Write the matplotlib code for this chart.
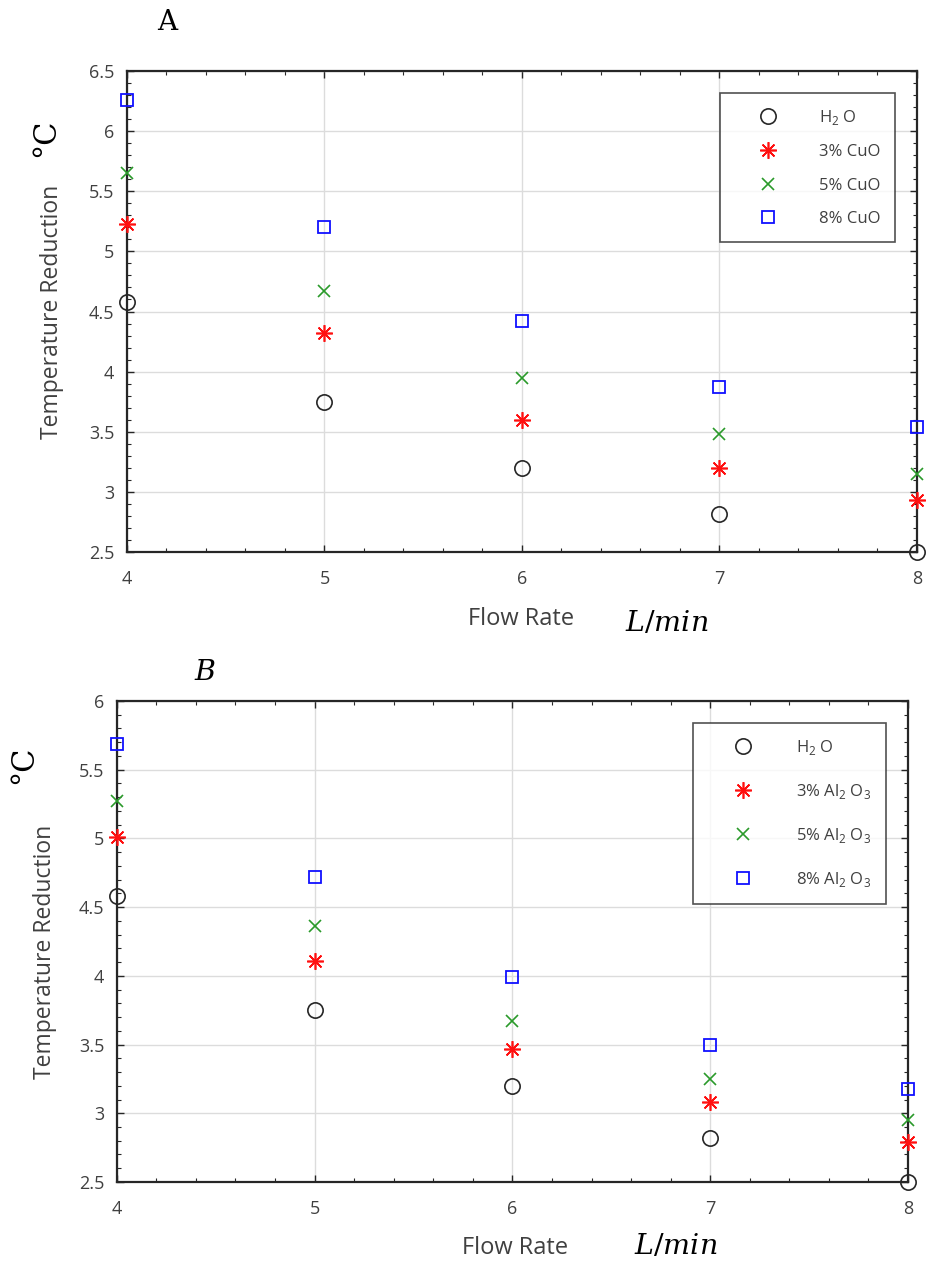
import numpy as np
import matplotlib
matplotlib.use('Agg')
from matplotlib import pyplot as plt
from matplotlib.ticker import FixedLocator, MultipleLocator, FuncFormatter

# flow rate (L/min)
flow = [4, 5, 6, 7, 8]

# panel A - CuO
a_h2o = [4.58, 3.75, 3.20, 2.82, 2.50]
a_cuo3 = [5.23, 4.32, 3.60, 3.20, 2.93]
a_cuo5 = [5.65, 4.67, 3.95, 3.48, 3.15]
a_cuo8 = [6.26, 5.20, 4.42, 3.87, 3.54]
a_labels = ['H$_{2}$ O', '3% CuO', '5% CuO', '8% CuO']
a_yticks = [2.5, 3, 3.5, 4, 4.5, 5, 5.5, 6, 6.5]

# panel B - Al2O3
b_h2o = [4.58, 3.75, 3.20, 2.82, 2.50]
b_al3 = [5.01, 4.11, 3.47, 3.08, 2.79]
b_al5 = [5.27, 4.36, 3.67, 3.25, 2.95]
b_al8 = [5.69, 4.72, 3.99, 3.50, 3.18]
b_labels = ['H$_{2}$ O', '3% Al$_{2}$ O$_{3}$', '5% Al$_{2}$ O$_{3}$', '8% Al$_{2}$ O$_{3}$']
b_yticks = [2.5, 3, 3.5, 4, 4.5, 5, 5.5, 6]

GRAY = '#404040'
plt.rcParams['font.family'] = ['Open Sans', 'DejaVu Sans']
plt.rcParams['mathtext.fontset'] = 'custom'
plt.rcParams['mathtext.rm'] = 'Open Sans'

fig = plt.figure(figsize=(9.27, 12.64), dpi=100)


def panel(ax, series, labels, yticks, spacing, hlen):
    h2o, s3, s5, s8 = series
    ax.plot(flow, h2o, linestyle='none', marker='o', markersize=11, markerfacecolor='none',
            markeredgecolor='#262626', markeredgewidth=1.2, label=labels[0], clip_on=False, zorder=5)
    ax.plot(flow, s3, linestyle='none', marker=(8, 2, 0), markersize=12,
            markeredgecolor='#ff1010', markeredgewidth=1.2, label=labels[1], clip_on=False, zorder=5)
    ax.plot(flow, s5, linestyle='none', marker='x', markersize=8,
            markeredgecolor='#2a9a2a', markeredgewidth=1.2, label=labels[2], clip_on=False, zorder=5)
    ax.plot(flow, s8, linestyle='none', marker='s', markersize=9, markerfacecolor='none',
            markeredgecolor='#1010ff', markeredgewidth=1.3, label=labels[3], clip_on=False, zorder=5)
    ax.set_xlim(flow[0], flow[-1])
    ax.set_ylim(yticks[0], yticks[-1])
    ax.xaxis.set_major_locator(FixedLocator(flow))
    ax.yaxis.set_major_locator(FixedLocator(yticks))
    ax.xaxis.set_minor_locator(MultipleLocator(0.2))
    ax.yaxis.set_minor_locator(MultipleLocator(0.1))
    ax.yaxis.set_major_formatter(FuncFormatter(lambda v, p: '%g' % v))
    ax.tick_params(which='both', direction='in', top=True, right=True, colors='#262626',
                   labelcolor=GRAY, labelsize=13)
    ax.tick_params(which='major', length=5, width=1)
    ax.tick_params(which='minor', length=3, width=0.8)
    ax.tick_params(axis='x', pad=13)
    ax.tick_params(axis='y', pad=9)
    ax.grid(True, which='major', color='#dcdcdc', linewidth=1)
    ax.set_axisbelow(True)
    for s in ax.spines.values():
        s.set_color('#262626')
        s.set_linewidth(1.6)
    leg = ax.legend(loc='upper right', fontsize=12, frameon=True, fancybox=False,
                    edgecolor='#262626', labelcolor=GRAY, borderpad=0.9, labelspacing=spacing,
                    handlelength=hlen, handletextpad=1.1, borderaxespad=1.3, markerscale=1.0)
    leg.get_frame().set_linewidth(1.2)
    return ax


axA = fig.add_axes([0.137, 0.5633, 0.852, 0.3805])
panel(axA, (a_h2o, a_cuo3, a_cuo5, a_cuo8), a_labels, a_yticks, 1.05, 3.9)
fig.text(167 / 927, 1 - 22 / 1264, 'A', family='DejaVu Serif', fontsize=20, ha='center', va='center')
fig.text(52 / 927, 1 - 312 / 1264, 'Temperature Reduction', rotation=90, fontsize=16.5,
         color=GRAY, ha='center', va='center')
fig.text(46 / 927, 1 - 138 / 1264, '°C', rotation=90, family='DejaVu Serif', fontsize=22,
         ha='center', va='center')
fig.text(521 / 927, 1 - 619 / 1264, 'Flow Rate', fontsize=17, color=GRAY, ha='center', va='center')
fig.text(667 / 927, 1 - 624 / 1264, r'$L/min$', fontsize=20.5, ha='center', va='center',
         math_fontfamily='dejavuserif')

axB = fig.add_axes([0.126, 0.0649, 0.8535, 0.3805])
panel(axB, (b_h2o, b_al3, b_al5, b_al8), b_labels, b_yticks, 1.5, 4.2)
fig.text(205 / 927, 1 - 673 / 1264, '$B$', fontsize=20.5, ha='center', va='center',
         math_fontfamily='dejavuserif')
fig.text(45 / 927, 1 - 952 / 1264, 'Temperature Reduction', rotation=90, fontsize=16.5,
         color=GRAY, ha='center', va='center')
fig.text(24 / 927, 1 - 765 / 1264, '°C', rotation=90, family='DejaVu Serif', fontsize=22,
         ha='center', va='center')
fig.text(515 / 927, 1 - 1248 / 1264, 'Flow Rate', fontsize=17, color=GRAY, ha='center', va='center')
fig.text(676 / 927, 1 - 1247 / 1264, r'$L/min$', fontsize=20.5, ha='center', va='center',
         math_fontfamily='dejavuserif')

fig.savefig('out.png', dpi=100)
